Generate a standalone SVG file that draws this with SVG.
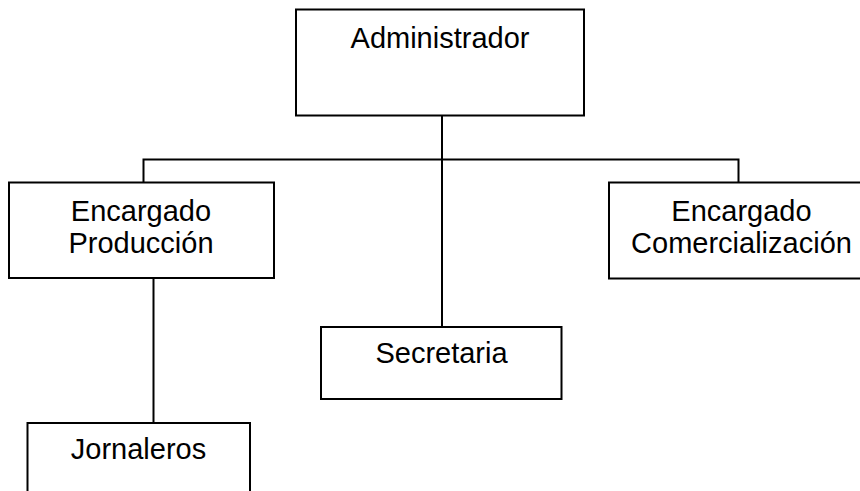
<svg xmlns="http://www.w3.org/2000/svg" width="860" height="491" viewBox="0 0 860 491">
<style>
.box{fill:#fff;stroke:#000;stroke-width:2}
.ln{fill:none;stroke:#000;stroke-width:2}
text{font-family:"Liberation Sans",Arial,sans-serif;font-size:29px;fill:#000;text-anchor:middle}
</style>
<rect width="860" height="491" fill="#fff"/>
<g id="connectors">
<line class="ln" x1="442" y1="115" x2="442" y2="327"/>
<polyline class="ln" points="143.5,182 143.5,159.5 738.5,159.5 738.5,182"/>
<line class="ln" x1="153.5" y1="278" x2="153.5" y2="423"/>
</g>
<g id="administrador">
<rect class="box" x="296" y="9.5" width="288" height="106"/>
<text x="440" y="48">Administrador</text>
</g>
<g id="produccion">
<rect class="box" x="9" y="182.5" width="265" height="95.5"/>
<text x="141" y="221">Encargado</text>
<text x="141" y="253">Producción</text>
</g>
<g id="comercializacion">
<rect class="box" x="609" y="182.5" width="266" height="96"/>
<text x="741.5" y="221">Encargado</text>
<text x="741.5" y="253">Comercialización</text>
</g>
<g id="secretaria">
<rect class="box" x="321" y="327" width="240.5" height="72"/>
<text x="441.5" y="363">Secretaria</text>
</g>
<g id="jornaleros">
<rect class="box" x="27.5" y="423" width="222.5" height="80"/>
<text x="138.5" y="459">Jornaleros</text>
</g>
</svg>
